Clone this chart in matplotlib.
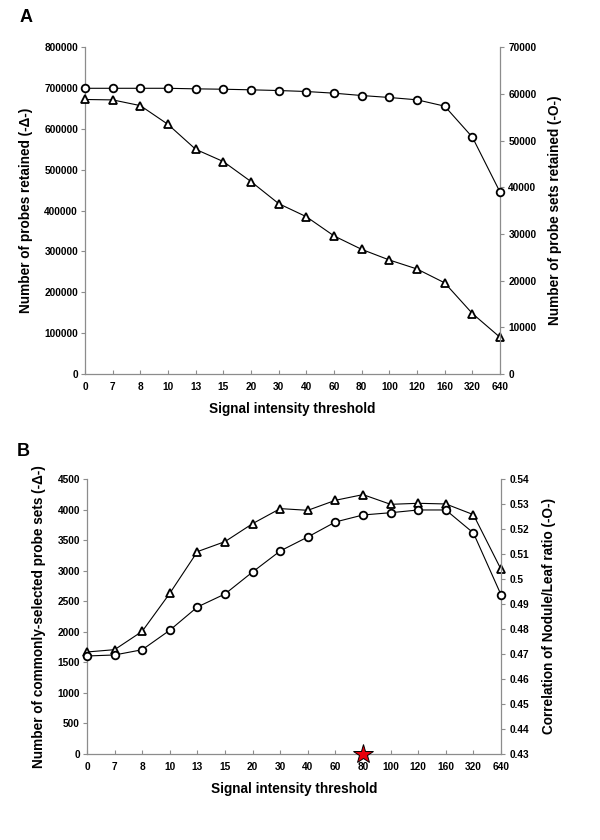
import matplotlib
matplotlib.use("Agg")
import matplotlib.pyplot as plt
from matplotlib.ticker import FuncFormatter, MultipleLocator

plt.rcParams['font.family'] = ['Liberation Sans', 'DejaVu Sans']
plt.rcParams['font.weight'] = 'bold'

thresholds = ["0", "7", "8", "10", "13", "15", "20", "30", "40", "60", "80",
              "100", "120", "160", "320", "640"]

# Panel A
probes_retained = [672000, 671000, 657000, 611000, 550000, 520000, 471000, 417000,
                   385000, 338000, 305000, 279000, 257000, 223000, 148000, 89700]
probe_sets_retained = [61200, 61200, 61200, 61200, 61080, 61000, 60870, 60720,
                       60510, 60150, 59650, 59230, 58730, 57370, 50730, 38960]

# Panel B
common_probe_sets = [1669, 1707, 2007, 2629, 3311, 3475, 3769, 4015,
                     3987, 4151, 4244, 4085, 4102, 4091, 3916, 3022]
correlation = [0.4692, 0.4696, 0.4717, 0.4795, 0.4888, 0.4940, 0.5028, 0.5112,
               0.5168, 0.5228, 0.5256, 0.5265, 0.5276, 0.5276, 0.5184, 0.4937]
star_threshold = "80"

GRAY = "#8c8c8c"
TICKFS = 7.3
LABFS = 9.8

fig = plt.figure(figsize=(6, 8.4), dpi=100)


def style_axes(ax, ax2):
    for a in (ax, ax2):
        a.spines['top'].set_visible(False)
        for s in ('left', 'right', 'bottom'):
            a.spines[s].set_color(GRAY)
            a.spines[s].set_linewidth(0.9)
    ax.spines['right'].set_visible(False)
    ax2.spines['left'].set_visible(False)
    ax2.spines['bottom'].set_visible(False)
    ax.tick_params(axis='y', direction='out', length=3, color=GRAY, labelsize=TICKFS, pad=2)
    ax.tick_params(axis='x', direction='in', length=3, color=GRAY, labelsize=TICKFS, pad=6)
    ax2.tick_params(axis='y', direction='out', length=3, color=GRAY, labelsize=TICKFS, pad=3)
    for lab in ax.get_xticklabels() + ax.get_yticklabels() + ax2.get_yticklabels():
        lab.set_fontweight('bold')


x = list(range(len(thresholds)))

# ---------- Panel A ----------
axA = fig.add_axes([0.1417, 0.5548, 0.6917, 0.389])
axA2 = axA.twinx()
axA.plot(x, probes_retained, color='black', lw=0.8, marker='^', ms=5.5,
         mfc='white', mec='black', mew=1.3, clip_on=False, zorder=3)
axA2.plot(x, probe_sets_retained, color='black', lw=0.8, marker='o', ms=5.5,
          mfc='white', mec='black', mew=1.3, clip_on=False, zorder=3)
axA.set_xlim(0, len(thresholds) - 1)
axA.set_ylim(0, 800000)
axA.yaxis.set_major_locator(MultipleLocator(100000))
axA2.set_ylim(0, 70000)
axA2.yaxis.set_major_locator(MultipleLocator(10000))
axA.set_xticks(x)
axA.set_xticklabels(thresholds)
axA.set_xlabel("Signal intensity threshold", fontsize=LABFS, fontweight='bold', labelpad=7)
axA.set_ylabel("Number of probes retained (-\u0394-)", fontsize=LABFS, fontweight='bold', labelpad=8)
axA2.set_ylabel("Number of probe sets retained (-O-)", fontsize=LABFS, fontweight='bold', labelpad=8)
style_axes(axA, axA2)
fig.text(20 / 600, 1 - 18 / 840, "A", fontsize=13, fontweight='bold', ha='left', va='center')

# ---------- Panel B ----------
axB = fig.add_axes([0.145, 0.1024, 0.69, 0.3274])
axB2 = axB.twinx()
axB.plot(x, common_probe_sets, color='black', lw=0.8, marker='^', ms=5.5,
         mfc='white', mec='black', mew=1.3, clip_on=False, zorder=3)
axB2.plot(x, correlation, color='black', lw=0.8, marker='o', ms=5.5,
          mfc='white', mec='black', mew=1.3, clip_on=False, zorder=3)
axB2.plot([thresholds.index(star_threshold)], [0.43], marker='*', ms=15,
          mfc='#e8000b', mec='black', mew=0.7, clip_on=False, zorder=5, ls='none')
axB.set_xlim(0, len(thresholds) - 1)
axB.set_ylim(0, 4500)
axB.yaxis.set_major_locator(MultipleLocator(500))
axB2.set_ylim(0.43, 0.54)
axB2.set_yticks([0.43 + 0.01 * i for i in range(12)])
axB2.yaxis.set_major_formatter(FuncFormatter(lambda v, p: ('%.2f' % v).rstrip('0')))
axB.set_xticks(x)
axB.set_xticklabels(thresholds)
axB.set_xlabel("Signal intensity threshold", fontsize=LABFS, fontweight='bold', labelpad=7)
axB.set_ylabel("Number of commonly-selected probe sets (-\u0394-)", fontsize=LABFS,
               fontweight='bold', labelpad=8)
axB2.set_ylabel("Correlation of Nodule/Leaf ratio (-O-)", fontsize=LABFS,
                fontweight='bold', labelpad=9)
style_axes(axB, axB2)
fig.text(17 / 600, 1 - 452 / 840, "B", fontsize=13, fontweight='bold', ha='left', va='center')

fig.savefig("out.png", dpi=100)
